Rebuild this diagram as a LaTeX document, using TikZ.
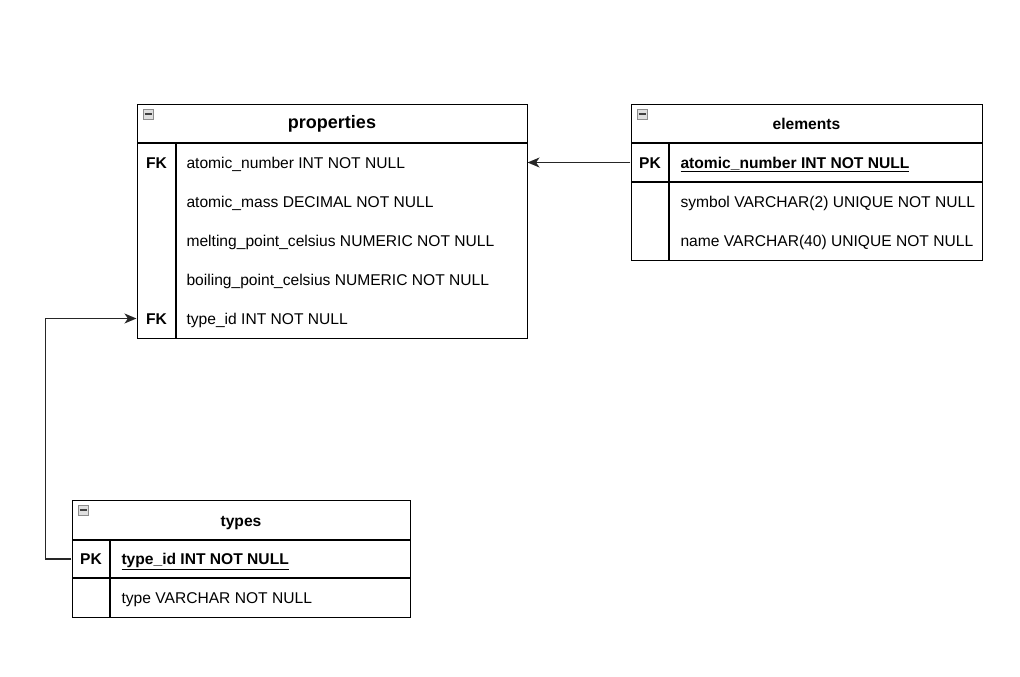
\documentclass[tikz,border=0pt]{standalone}
\usepackage{fontspec}
\setmainfont{Liberation Sans}
\usetikzlibrary{arrows.meta}
\begin{document}
\begin{tikzpicture}[x=1pt,y=-1pt,line width=1.1pt]
\tikzstyle{every node}+=[inner sep=0pt,font=\fontsize{15.6}{18}\selectfont,text height=11.2pt,text depth=0pt]
\tikzstyle{tablebox}=[draw,anchor=north west,fill=white]
\tikzstyle{headtitle}=[font=\fontsize{15.6}{18}\selectfont\bfseries]
\tikzstyle{keytext}=[font=\fontsize{15.6}{18}\selectfont\bfseries]
\tikzstyle{fieldtext}=[anchor=west]
\tikzstyle{rowbox}=[minimum height=39pt]
\tikzstyle{minusicon}=[fill=gray!25,draw=gray!90,line width=0.9pt]
\tikzstyle{minusbar}=[black!75,line width=2pt]
\tikzstyle{fkarrow}=[-{Stealth[length=12pt,width=10pt,inset=3.5pt]},black!85,line width=1.3pt]
\useasboundingbox (0,0) rectangle (1020,677);
% properties
\node[tablebox,minimum width=390pt,minimum height=234pt] (properties) at (137,104) {};
\draw (137,143) -- (527,143);
\draw (176,143) -- (176,338);
\draw[minusicon] (143,109) rectangle (153,119);
\draw[minusbar] (144.5,114) -- (151.5,114);
\node[headtitle,font=\fontsize{18}{21}\selectfont\bfseries,text height=12.9pt] (propertiesTitle) at (332,122.5) {properties};
\node[rowbox,minimum width=390pt] (propAtomic) at (332,162.5) {};
\node[rowbox,minimum width=390pt] (propType) at (332,318.5) {};
\node[keytext] (propAtomicKey) at (156.5,162.5) {FK};
\node[keytext] (propTypeKey) at (156.5,318.5) {FK};
\node[fieldtext] (propAtomicText) at (186,162.5) {atomic\_number INT NOT NULL};
\node[fieldtext] (propMassText) at (186,201.5) {atomic\_mass DECIMAL NOT NULL};
\node[fieldtext] (propMeltText) at (186,240.5) {melting\_point\_celsius NUMERIC NOT NULL};
\node[fieldtext] (propBoilText) at (186,279.5) {boiling\_point\_celsius NUMERIC NOT NULL};
\node[fieldtext] (propTypeText) at (186,318.5) {type\_id INT NOT NULL};
% elements
\node[tablebox,minimum width=351pt,minimum height=156pt] (elements) at (631,104) {};
\draw (631,143) -- (982,143);
\draw (631,182) -- (982,182);
\draw (669,143) -- (669,260);
\draw[minusicon] (637,109) rectangle (647,119);
\draw[minusbar] (638.5,114) -- (645.5,114);
\node[headtitle] (elementsTitle) at (806.5,123.5) {elements};
\node[rowbox,minimum width=351pt] (elemAtomic) at (806.5,162.5) {};
\node[keytext] (elemAtomicKey) at (650,162.5) {PK};
\node[fieldtext] (elemAtomicText) at (680,162.5) {\bfseries\underline{atomic\_number INT NOT NULL}};
\node[fieldtext] (elemSymbolText) at (680,201.5) {symbol VARCHAR(2) UNIQUE NOT NULL};
\node[fieldtext] (elemNameText) at (680,240.5) {name VARCHAR(40) UNIQUE NOT NULL};
% types
\node[tablebox,minimum width=338pt,minimum height=117pt] (types) at (72,500) {};
\draw (72,540) -- (410,540);
\draw (72,578) -- (410,578);
\draw (110,540) -- (110,617);
\draw[minusicon] (78,505) rectangle (88,515);
\draw[minusbar] (79.5,510) -- (86.5,510);
\node[headtitle] (typesTitle) at (241,520.5) {types};
\node[rowbox,minimum width=338pt] (typesId) at (241,559) {};
\node[keytext] (typesIdKey) at (91,559) {PK};
\node[fieldtext] (typesIdText) at (121,559) {\bfseries\underline{type\_id INT NOT NULL}};
\node[fieldtext] (typesTypeText) at (121,597.5) {type VARCHAR NOT NULL};
% relations
\draw[fkarrow] (elemAtomic.west) -- (propAtomic.east);
\draw[fkarrow] (typesId.west) -- ++(-26,0) |- (propType.west);
\end{tikzpicture}
\end{document}
